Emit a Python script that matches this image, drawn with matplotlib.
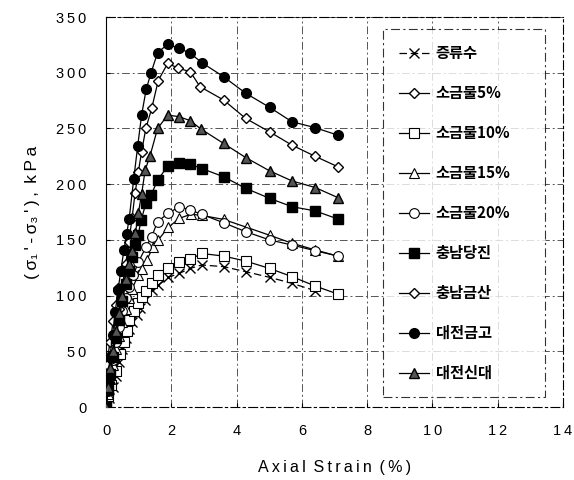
import matplotlib
matplotlib.use("Agg")
import matplotlib.pyplot as plt

# 증류수 (distilled water)
x_dw = [0, 0.1, 0.2, 0.3, 0.4, 0.5, 0.6, 0.7, 0.8, 0.94, 1.04, 1.2, 1.4, 1.6, 1.91, 2.25, 2.58, 2.93, 3.6, 4.28, 5.01, 5.7, 6.41]
y_dw = [0, 8, 18, 28, 40, 52, 62, 70, 76, 82.6, 88.6, 96, 105, 109.5, 116.4, 120, 124.4, 127.5, 126, 121.5, 116.4, 111, 104.4]

# 소금물 5%
x_s5 = [0, 0.1, 0.2, 0.3, 0.4, 0.5, 0.6, 0.7, 0.8, 0.89, 0.99, 1.09, 1.22, 1.4, 1.6, 1.89, 2.22, 2.58, 2.88, 3.6, 4.28, 5.01, 5.7, 6.41, 7.1]
y_s5 = [0, 22, 44, 65, 88, 108, 128, 148, 170, 192, 211, 229, 250, 268, 293, 308.5, 304, 301, 287.5, 275.6, 259, 247, 235, 225, 215.7]

# 소금물 10%
x_s10 = [0, 0.05, 0.15, 0.31, 0.43, 0.55, 0.63, 0.71, 0.85, 0.99, 1.09, 1.23, 1.4, 1.58, 1.91, 2.25, 2.58, 2.93, 3.6, 4.28, 5.01, 5.7, 6.41, 7.1]
y_s10 = [0, 10, 20, 32, 48, 58, 68, 78, 86, 93, 99, 104.4, 111, 118.5, 124.4, 129.8, 132.5, 137.8, 135.5, 131, 124.4, 117, 108.6, 101.4]

# 소금물 15%
x_s15 = [0, 0.05, 0.12, 0.2, 0.3, 0.4, 0.5, 0.6, 0.7, 0.8, 0.99, 1.1, 1.25, 1.45, 1.6, 1.91, 2.25, 2.6, 2.93, 3.6, 4.31, 5.03, 5.7, 6.41, 7.1]
y_s15 = [0, 12, 25, 38, 52, 64, 76, 88, 98, 106, 118.5, 124, 132, 144, 150, 161.3, 169.4, 173, 172, 168.4, 161.3, 154, 147, 141, 135.5]

# 소금물 20%
x_s20 = [0, 0.05, 0.12, 0.2, 0.3, 0.4, 0.5, 0.6, 0.7, 0.84, 0.99, 1.23, 1.4, 1.58, 1.91, 2.25, 2.58, 2.93, 3.6, 4.28, 5.01, 5.7, 6.41, 7.1]
y_s20 = [0, 14, 28, 42, 58, 72, 86, 98, 108, 118.5, 130, 143.9, 152.9, 166.4, 174, 179.8, 176.8, 173, 165.4, 157.4, 150, 145.4, 140.3, 135.5]

# 충남당진
x_dj = [0, 0.05, 0.12, 0.2, 0.3, 0.4, 0.5, 0.6, 0.7, 0.8, 0.88, 0.98, 1.08, 1.22, 1.38, 1.58, 1.89, 2.24, 2.58, 2.94, 3.6, 4.28, 5.01, 5.7, 6.41, 7.1]
y_dj = [0, 15, 30, 45, 62, 78, 95, 110, 122, 135, 145, 154, 168, 182.8, 190, 203.8, 216, 219, 217.8, 214, 206.7, 196.3, 187.3, 179.8, 176, 168.8]

# 충남금산
x_gs = [0, 0.02, 0.12, 0.22, 0.3, 0.38]
y_gs = [0, 38, 58, 77, 92, 107]

# 대전금고
x_gg = [0, 0.05, 0.12, 0.2, 0.28, 0.37, 0.45, 0.55, 0.63, 0.71, 0.85, 0.97, 1.09, 1.23, 1.38, 1.58, 1.89, 2.24, 2.58, 2.94, 3.6, 4.28, 5.01, 5.7, 6.41, 7.1]
y_gg = [0, 22, 45, 65, 85, 105, 122, 141, 155, 169, 205, 234, 262, 285, 300, 318, 325.6, 322, 317.5, 309, 296.5, 281.6, 269, 256, 250.7, 244]

# 대전신대
x_sd = [0, 0.05, 0.12, 0.2, 0.3, 0.4, 0.5, 0.6, 0.7, 0.8, 0.9, 0.99, 1.09, 1.2, 1.35, 1.58, 1.89, 2.24, 2.58, 2.91, 3.6, 4.28, 5.01, 5.7, 6.41, 7.1]
y_sd = [0, 18, 35, 50, 68, 84, 100, 115, 128, 140, 156, 174, 191, 212.7, 225.6, 250, 262, 260.6, 257, 249.5, 236.6, 223.9, 212, 202.9, 197, 188]

x_ticks = [0, 2, 4, 6, 8, 10, 12, 14]
y_ticks = [0, 50, 100, 150, 200, 250, 300, 350]

plt.rcParams["font.family"] = ["Liberation Sans", "DejaVu Sans"]

fig = plt.figure(figsize=(5.74, 4.8), dpi=100)
ax = fig.add_axes([0.1847, 0.152, 0.796, 0.8125])

lw = 0.9
ms = 7
ax.plot(x_dw, y_dw, marker="x", color="black", ls=(0, (6, 3)), lw=lw, ms=ms, mew=1.0, label="증류수", zorder=3)
ax.plot(x_s5, y_s5, marker="D", color="black", mfc="white", lw=lw, ms=5.5, mew=1.0, label="소금물5%", zorder=4)
ax.plot(x_s10, y_s10, marker="s", color="black", mfc="white", lw=lw, ms=ms, mew=0.8, label="소금물10%", zorder=3)
ax.plot(x_s15, y_s15, marker="^", color="black", mfc="white", lw=lw, ms=ms, mew=0.8, label="소금물15%", zorder=3)
ax.plot(x_s20, y_s20, marker="o", color="black", mfc="white", lw=lw, ms=ms, mew=0.8, label="소금물20%", zorder=3)
ax.plot(x_dj, y_dj, marker="s", color="black", mfc="black", lw=lw, ms=ms, label="충남당진", zorder=5)
ax.plot(x_gs, y_gs, marker="D", color="black", mfc="white", lw=lw, ms=5, mew=1.0, label="충남금산", zorder=4)
ax.plot(x_gg, y_gg, marker="o", color="black", mfc="black", lw=lw, ms=ms, label="대전금고", zorder=5)
ax.plot(x_sd, y_sd, marker="^", color="black", mfc="#555555", lw=lw, ms=ms, label="대전신대", zorder=5)

ax.set_xlim(0, 14)
ax.set_ylim(0, 350)
ax.set_xticks(x_ticks)
ax.set_yticks(y_ticks)
ax.set_xticklabels(["\u2009".join(str(v)) for v in x_ticks])
ax.set_yticklabels(["\u2009".join(str(v)) for v in y_ticks])
ax.tick_params(direction="in", length=3, labelsize=10.5)
ax.tick_params(axis="x", pad=12)
ax.tick_params(axis="y", pad=14)
ax.grid(True, color="#555555", ls=(0, (8, 3, 2, 3)), lw=0.7)

for side in ["top", "right", "bottom"]:
    ax.spines[side].set_linestyle((0, (8, 3, 2, 3)))
    ax.spines[side].set_linewidth(0.8)
ax.spines["left"].set_linewidth(0.8)

ax.set_xlabel("A\u2009x\u2009i\u2009a\u2009l\u2009 S\u2009t\u2009r\u2009a\u2009i\u2009n\u2009 (\u2009%\u2009)", fontsize=11.5, labelpad=16)
ax.set_ylabel("(\u2009σ\u2081\u2009'\u2009-\u2009σ\u2083\u2009'\u2009)\u2009,\u2009 k\u2009P\u2009a", fontsize=12.5, labelpad=12)

leg = ax.legend(loc="upper left", bbox_to_anchor=(0.606, 0.969, 0.355, 0.0), mode="expand",
                frameon=True, fancybox=False, edgecolor="black", handlelength=2.0,
                handletextpad=0.4, labelspacing=1.57, borderpad=1.05, borderaxespad=0.0,
                prop={"family": ["Noto Sans CJK KR", "DejaVu Sans"], "size": 11, "weight": "bold"})
leg.get_frame().set_linewidth(0.8)
leg.get_frame().set_linestyle((0, (8, 3, 2, 3)))

fig.savefig("out.png", dpi=100)
